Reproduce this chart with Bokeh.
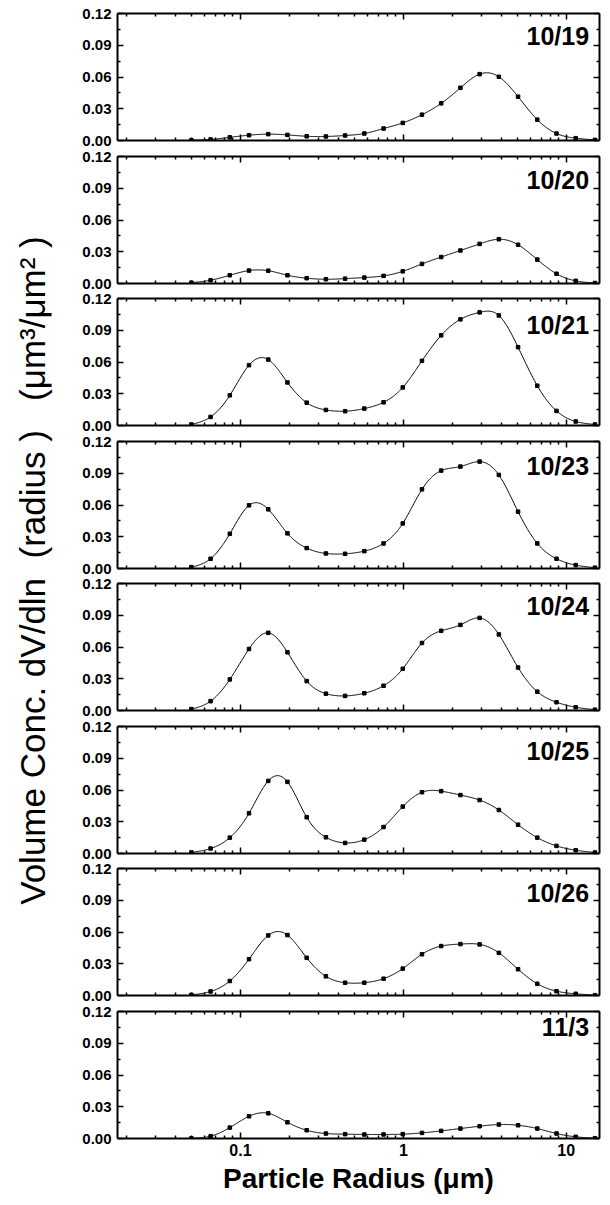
import numpy as np
from bokeh.plotting import figure
from bokeh.models import (Range1d, FixedTicker, LogAxis, LinearAxis,
                          CustomJSTickFormatter, PrintfTickFormatter, Label)
from bokeh.layouts import column, row
from bokeh.embed import file_html
from bokeh.resources import INLINE

# ---------------- data ----------------
radius = [0.0500, 0.0656, 0.0861, 0.1129, 0.1482, 0.1944, 0.2551, 0.3347,
          0.4392, 0.5762, 0.7561, 0.9920, 1.3016, 1.7078, 2.2407, 2.9400,
          3.8575, 5.0613, 6.6407, 8.7131, 11.432, 15.000]

dates = ["10/19", "10/20", "10/21", "10/23", "10/24", "10/25", "10/26", "11/3"]

v_1019 = [0.0003, 0.0010, 0.0030, 0.0050, 0.0060, 0.0053, 0.0040, 0.0038, 0.0047, 0.0066, 0.0113,
          0.0166, 0.0244, 0.0351, 0.0498, 0.0627, 0.0602, 0.0414, 0.0197, 0.0066, 0.0022, 0.0006]
v_1020 = [0.0008, 0.0031, 0.0078, 0.0122, 0.0121, 0.0078, 0.0050, 0.0040, 0.0046, 0.0056, 0.0072,
          0.0115, 0.0185, 0.0250, 0.0312, 0.0374, 0.0418, 0.0366, 0.0226, 0.0092, 0.0025, 0.0005]
v_1021 = [0.0010, 0.0081, 0.0285, 0.0570, 0.0623, 0.0407, 0.0216, 0.0147, 0.0135, 0.0160, 0.0219,
          0.0360, 0.0611, 0.0852, 0.1003, 0.1069, 0.1040, 0.0740, 0.0376, 0.0138, 0.0038, 0.0010]
v_1023 = [0.0013, 0.0092, 0.0328, 0.0597, 0.0559, 0.0332, 0.0193, 0.0142, 0.0139, 0.0164, 0.0237,
          0.0426, 0.0748, 0.0925, 0.0963, 0.1010, 0.0884, 0.0537, 0.0237, 0.0092, 0.0032, 0.0008]
v_1024 = [0.0013, 0.0088, 0.0294, 0.0581, 0.0734, 0.0550, 0.0278, 0.0159, 0.0138, 0.0163, 0.0234,
          0.0394, 0.0638, 0.0753, 0.0809, 0.0875, 0.0719, 0.0406, 0.0178, 0.0078, 0.0031, 0.0008]
v_1025 = [0.0010, 0.0047, 0.0150, 0.0380, 0.0686, 0.0677, 0.0343, 0.0153, 0.0100, 0.0131, 0.0250,
          0.0443, 0.0579, 0.0589, 0.0552, 0.0505, 0.0411, 0.0272, 0.0150, 0.0072, 0.0031, 0.0010]
v_1026 = [0.0006, 0.0038, 0.0137, 0.0343, 0.0568, 0.0571, 0.0356, 0.0181, 0.0121, 0.0121, 0.0159,
          0.0254, 0.0390, 0.0467, 0.0486, 0.0483, 0.0403, 0.0248, 0.0111, 0.0041, 0.0016, 0.0003]
v_1103 = [0.0002, 0.0022, 0.0103, 0.0210, 0.0238, 0.0153, 0.0078, 0.0047, 0.0041, 0.0038, 0.0038,
          0.0041, 0.0053, 0.0072, 0.0094, 0.0116, 0.0132, 0.0125, 0.0094, 0.0047, 0.0016, 0.0003]

series = [v_1019, v_1020, v_1021, v_1023, v_1024, v_1025, v_1026, v_1103]

x_major = [0.1, 1, 10]
y_major = [0.0, 0.03, 0.06, 0.09, 0.12]
y_minor = [0.015, 0.045, 0.075, 0.105]

NB = "\u00a0"
x_title = "Particle Radius (\u03bcm)"
y_title = ("Volume Conc. dV/dln" + NB * 2 + "(radius" + NB + ")" + NB * 3
           + "(\u03bcm\u00b3/\u03bcm\u00b2" + NB + ")")

# ---------------- layout constants ----------------
FONT = "Liberation Sans"
TOTAL_H = 1197
TITLE_W = 60
PANEL_W = 542
LEFT_B = 57
RIGHT_B = 3
FRAME_H = 127
tops = [13, 156, 298, 441, 583, 726, 868, 1011]
label_off_px = [22, 23, 26, 24, 22, 24, 24, 15]
XR = (0.0176, 16.0)

x_minor = [m * 10.0 ** e for e in (-2, -1, 0, 1) for m in range(2, 10)]


def natural_spline(x, y, xs):
    x = np.asarray(x, float)
    y = np.asarray(y, float)
    n = len(x)
    h = np.diff(x)
    A = np.zeros((n, n))
    rhs = np.zeros(n)
    A[0, 0] = 1.0
    A[-1, -1] = 1.0
    for i in range(1, n - 1):
        A[i, i - 1] = h[i - 1]
        A[i, i] = 2 * (h[i - 1] + h[i])
        A[i, i + 1] = h[i]
        rhs[i] = 6 * ((y[i + 1] - y[i]) / h[i] - (y[i] - y[i - 1]) / h[i - 1])
    M = np.linalg.solve(A, rhs)
    idx = np.clip(np.searchsorted(x, xs) - 1, 0, n - 2)
    x0 = x[idx]
    x1 = x[idx + 1]
    hh = x1 - x0
    t0 = x1 - xs
    t1 = xs - x0
    return (M[idx] * t0 ** 3 / (6 * hh) + M[idx + 1] * t1 ** 3 / (6 * hh)
            + (y[idx] / hh - M[idx] * hh / 6) * t0 + (y[idx + 1] / hh - M[idx + 1] * hh / 6) * t1)


def style_axis(ax, labels=True, size="15px"):
    ax.axis_line_width = 2
    ax.axis_line_color = "black"
    ax.major_tick_in = 6
    ax.major_tick_out = 0
    ax.minor_tick_in = 3
    ax.minor_tick_out = 0
    ax.major_tick_line_width = 1.5
    ax.minor_tick_line_width = 1.5
    ax.major_tick_line_color = "black"
    ax.minor_tick_line_color = "black"
    ax.major_label_text_font = FONT
    if labels:
        ax.major_label_text_font_style = "bold"
        ax.major_label_text_font_size = size
        ax.major_label_text_color = "black"
    else:
        ax.major_label_text_font_size = "1px"
        ax.major_label_text_color = None
        ax.major_label_standoff = 0


mids = [0] + [((tops[i] + FRAME_H) + tops[i + 1]) // 2 for i in range(len(tops) - 1)] + [TOTAL_H]

panels = []
n = len(series)
lx = np.log10(np.array(radius))
dense = np.linspace(lx[0], lx[-1], 500)
for i, (vals, date) in enumerate(zip(series, dates)):
    start, end = mids[i], mids[i + 1]
    btop = tops[i] - start
    bbot = end - (tops[i] + FRAME_H)
    last = (i == n - 1)
    p = figure(width=PANEL_W, height=end - start, x_axis_type="log",
               x_range=Range1d(*XR), y_range=Range1d(0, 0.12),
               toolbar_location=None, output_backend="svg",
               min_border_left=LEFT_B, min_border_right=RIGHT_B,
               min_border_top=btop, min_border_bottom=bbot,
               outline_line_color=None, background_fill_color="white",
               border_fill_color="white")
    p.grid.visible = False

    xt = FixedTicker(ticks=x_major, minor_ticks=x_minor)
    yt = FixedTicker(ticks=y_major, minor_ticks=y_minor)

    xa = p.xaxis[0]
    xa.ticker = xt
    xa.formatter = CustomJSTickFormatter(code="return String(tick);")
    style_axis(xa, labels=last, size="16px")
    if last:
        xa.major_label_standoff = 5
        xa.axis_label = x_title
        xa.axis_label_text_font = FONT
        xa.axis_label_text_font_style = "bold"
        xa.axis_label_text_font_size = "28px"
        xa.axis_label_text_color = "black"
        xa.axis_label_standoff = 4

    ya = p.yaxis[0]
    ya.ticker = yt
    ya.formatter = PrintfTickFormatter(format="%.2f")
    style_axis(ya, labels=True)
    ya.major_label_standoff = 6

    top_ax = LogAxis(ticker=FixedTicker(ticks=x_major, minor_ticks=x_minor),
                     formatter=CustomJSTickFormatter(code="return String(tick);"))
    style_axis(top_ax, labels=False)
    p.add_layout(top_ax, "above")
    right_ax = LinearAxis(ticker=FixedTicker(ticks=y_major, minor_ticks=y_minor),
                          formatter=PrintfTickFormatter(format="%.2f"))
    style_axis(right_ax, labels=False)
    p.add_layout(right_ax, "right")

    ys = natural_spline(lx, vals, dense)
    p.line(10 ** dense, ys, line_color="black", line_width=1)
    p.scatter(radius, vals, marker="square", size=3.5, color="black")

    p.add_layout(Label(x=13.8, y=0.12 - label_off_px[i] / FRAME_H * 0.12, text=date,
                       text_align="right", text_baseline="middle",
                       text_font=FONT, text_font_style="bold",
                       text_font_size="25px", text_color="black"))
    panels.append(p)

tf = figure(width=TITLE_W, height=TOTAL_H, x_range=Range1d(0, TITLE_W),
            y_range=Range1d(0, TOTAL_H), toolbar_location=None, output_backend="svg",
            min_border=0, x_axis_location=None, y_axis_location=None,
            outline_line_color=None)
tf.grid.visible = False
tf.add_layout(Label(x=32, y=TOTAL_H - 570, text=y_title, angle=90, angle_units="deg",
                    text_align="center", text_baseline="middle", text_font=FONT,
                    text_font_size="35px", text_color="black"))

layout = row(tf, column(*panels))
open("out.html", "w").write(file_html(layout, INLINE))
